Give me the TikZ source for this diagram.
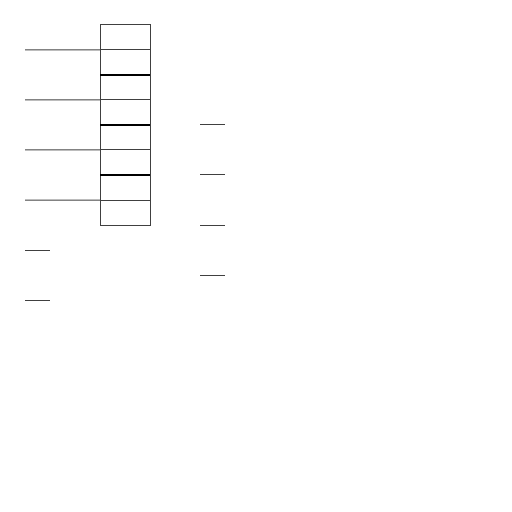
\documentclass[tikz,border=0pt]{standalone}
\begin{document}
\begin{tikzpicture}[x=1bp,y=-1bp,
  cell/.style={draw=black!75, line width=1bp, minimum width=50bp, minimum height=25bp, inner sep=0pt, outer sep=0pt},
  wire/.style={draw=black!75, line width=1bp},
  darkline/.style={draw=black, line width=1.4bp}]
\useasboundingbox (0,0) rectangle (512,512);
\foreach \i in {1,...,8} {
  \node[cell] (c\i) at (125,{12.5+25*\i}) {};
}
\foreach \i in {2,4,6} {
  \draw[darkline] (c\i.south west) -- (c\i.south east);
}
\coordinate (l1) at (25,50);
\coordinate (l2) at (25,100);
\coordinate (l3) at (25,150);
\coordinate (l4) at (25,200);
\draw[wire] (l1) -- (c1.south west);
\draw[wire] (l2) -- (c3.south west);
\draw[wire] (l3) -- (c5.south west);
\draw[wire] (l4) -- (c7.south west);
\foreach \y [count=\k] in {125,175,225,275} {
  \coordinate (ra\k) at (200,\y);
  \coordinate (rb\k) at (225,\y);
  \draw[wire] (ra\k) -- (rb\k);
}
\foreach \y [count=\k] in {250,300} {
  \coordinate (sa\k) at (25,\y);
  \coordinate (sb\k) at (50,\y);
  \draw[wire] (sa\k) -- (sb\k);
}
\end{tikzpicture}
\end{document}
